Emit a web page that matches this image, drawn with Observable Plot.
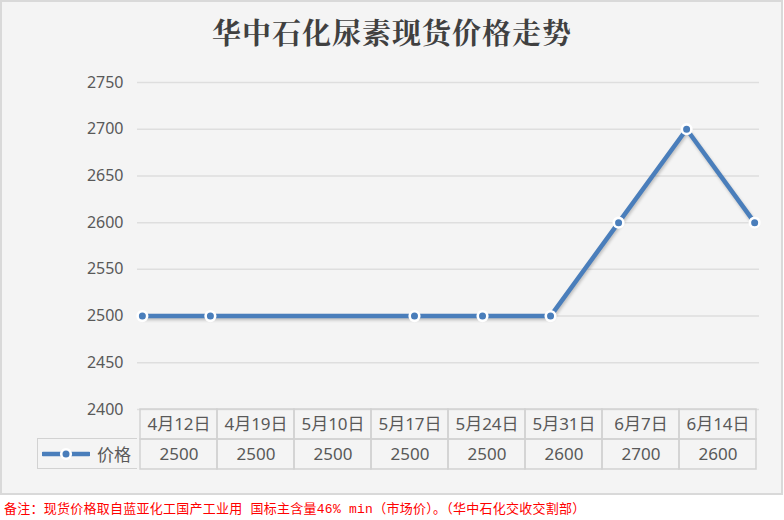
<!DOCTYPE html>
<html>
<head>
<meta charset="utf-8">
<script src="https://cdn.jsdelivr.net/npm/d3@7"></script>
<script src="https://cdn.jsdelivr.net/npm/@observablehq/plot@0.6"></script>
<style>
  html, body { margin: 0; padding: 0; background: #ffffff; }
  body { width: 784px; height: 520px; position: relative; overflow: hidden;
         font-family: "Noto Sans CJK SC", "Noto Sans", sans-serif; }
  #frame { position: absolute; left: 0; top: 0; width: 779px; height: 491px;
           background: #f4f4f4; border: 2px solid #d9d9d9; }
  #title { position: absolute; left: 0; top: 12px; width: 784px; text-align: center;
           font-family: "Noto Serif CJK SC", "Noto Sans CJK SC", serif; font-weight: 700;
           font-size: 29px; line-height: 40px; color: #404040; letter-spacing: 1px; }
  #chart { position: absolute; left: 0; top: 60px; }
  #table { position: absolute; left: 0; top: 408px; }
  #legend { position: absolute; left: 37px; top: 438px; width: 99px; height: 29px;
            border: 1.5px solid #d2d2d2; border-right: none; box-sizing: content-box;
            display: flex; align-items: center; color: #595959; font-size: 17px; }
  #legend svg { margin-left: 4px; margin-right: 7px; }
  #caption { position: absolute; left: 4px; top: 498px; font-size: 13px; color: #ff0000;
             font-family: "Liberation Mono", "Noto Sans CJK SC", monospace; white-space: pre;
             letter-spacing: 0.25px; }
  #chart g[aria-label="line"] { filter: drop-shadow(1px 2px 1.5px rgba(0,0,0,0.22)); }
</style>
</head>
<body>
<div id="frame"></div>
<div id="title"></div>
<div id="chart"></div>
<div id="table"></div>
<div id="legend"></div>
<div id="caption"></div>
<script>
// ---- data ----
const title = "华中石化尿素现货价格走势";
const seriesName = "价格";
const dates = ["2019-04-12","2019-04-19","2019-05-10","2019-05-17","2019-05-24","2019-05-31","2019-06-07","2019-06-14"];
const dateLabels = ["4月12日","4月19日","5月10日","5月17日","5月24日","5月31日","6月7日","6月14日"];
const prices = [2500, 2500, 2500, 2500, 2500, 2600, 2700, 2600];
const yTicks = [2400, 2450, 2500, 2550, 2600, 2650, 2700, 2750];
const caption = "备注：现货价格取自蓝亚化工国产工业用 国标主含量46% min（市场价）。（华中石化交收交割部）";

const parse = d3.timeParse("%Y-%m-%d");
const rows = dates.map((d, i) => ({date: parse(d), label: dateLabels[i], price: prices[i]}));
const blue = "#4a7ebb";

document.getElementById("title").textContent = title;
document.getElementById("caption").textContent = caption;

// ---- line chart ----
const xDomain = [d3.timeHour.offset(rows[0].date, -12), d3.timeHour.offset(rows[rows.length - 1].date, 12)];
const chart = Plot.plot({
  width: 784,
  height: 360,
  marginTop: 22,
  marginBottom: 11,
  marginLeft: 137,
  marginRight: 25,
  style: {background: "transparent", fontFamily: "'Noto Sans', 'Noto Sans CJK SC', sans-serif", fontSize: "16px", color: "#595959", overflow: "visible"},
  x: {type: "time", domain: xDomain, axis: null},
  y: {domain: [yTicks[0], yTicks[yTicks.length - 1]], ticks: yTicks, tickSize: 0, tickPadding: 14, label: null, tickFormat: d => String(d)},
  marks: [
    Plot.ruleY(yTicks, {stroke: "#dedede", strokeWidth: 1.5, strokeOpacity: 1}),
    Plot.line(rows, {x: "date", y: "price", stroke: blue, strokeWidth: 4.5, strokeLinejoin: "round"}),
    Plot.dot(rows, {x: "date", y: "price", r: 4.8, fill: blue, stroke: "white", strokeWidth: 2.6})
  ]
});
document.getElementById("chart").appendChild(chart);

// ---- data table ----
const cells = [];
rows.forEach(r => {
  cells.push({col: r.label, row: "date", text: r.label});
  cells.push({col: r.label, row: "value", text: String(r.price)});
});
const table = Plot.plot({
  width: 784,
  height: 62,
  marginTop: 1,
  marginBottom: 1,
  marginLeft: 137,
  marginRight: 25,
  style: {background: "transparent", overflow: "visible"},
  x: {type: "band", domain: dateLabels, padding: 0, axis: null},
  y: {type: "band", domain: ["date", "value"], padding: 0, axis: null},
  marks: [
    Plot.cell(cells, {x: "col", y: "row", fill: "none", stroke: "#d2d2d2", strokeWidth: 1.5}),
    Plot.text(cells, {x: "col", y: "row", text: "text", fill: "#595959", fontSize: 17,
      fontFamily: "'Noto Sans', 'Noto Sans CJK SC', sans-serif"})
  ]
});
document.getElementById("table").appendChild(table);

// ---- legend cell ----
const legend = document.getElementById("legend");
const ns = "http://www.w3.org/2000/svg";
const sw = document.createElementNS(ns, "svg");
sw.setAttribute("width", 48); sw.setAttribute("height", 14);
sw.innerHTML = `<line x1="1" y1="7" x2="47" y2="7" stroke="${blue}" stroke-width="4.5" stroke-linecap="round"/>
<circle cx="24" cy="7" r="4.8" fill="${blue}" stroke="white" stroke-width="2.6"/>`;
legend.appendChild(sw);
const lt = document.createElement("span");
lt.textContent = seriesName;
legend.appendChild(lt);
</script>
</body>
</html>
